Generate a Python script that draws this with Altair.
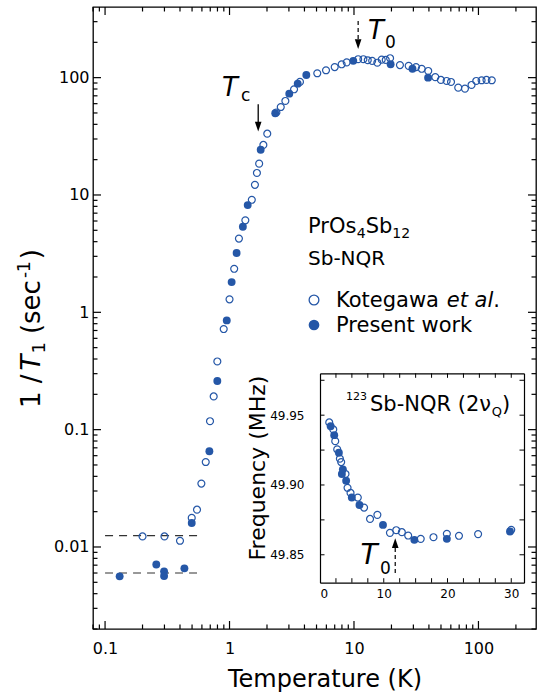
import altair as alt
import pandas as pd

# ---------------- data ----------------
kot_T = [0.20, 0.30, 0.40, 0.497, 0.548, 0.594, 0.644, 0.697, 0.746, 0.798, 0.898, 1.00, 1.09,
         1.19, 1.34, 1.51, 1.60, 1.66, 1.73, 1.87, 2.01, 2.38, 2.58, 2.81, 3.30, 3.68, 5.07, 5.96,
         7.00, 7.96, 8.74, 10.8, 11.9, 12.9, 14.0, 15.4, 16.7, 18.0, 19.5, 23.4, 27.5, 31.5, 35.0,
         39.5, 45.0, 49.9, 55.5, 60.2, 68.8, 77.9, 88.0, 96.0, 106, 116, 128]
kot_R = [0.0123, 0.0123, 0.0113, 0.0177, 0.0208, 0.0347, 0.053, 0.118, 0.192, 0.381, 0.72, 1.29, 2.35,
         4.25, 6.08, 9.1, 12.2, 15.4, 18.5, 26.7, 33.3, 50.5, 56.2, 63.3, 79.6, 92, 109, 115.6,
         123, 130, 135, 143.5, 143.5, 140.7, 139, 134, 142.4, 141.6, 146.4, 128, 126, 123, 119,
         114, 101, 95.6, 93.7, 91.9, 82.2, 80.6, 86.6, 93.7, 95, 95.6, 95]

pw_T = [0.131, 0.258, 0.298, 0.298, 0.434, 0.497, 0.689, 0.798, 0.95, 1.04, 1.14, 1.28, 1.40,
        1.78, 2.33, 3.02, 3.53, 4.14, 9.87, 19.7, 29.5, 39.4]
pw_R = [0.00562, 0.0071, 0.0062, 0.00566, 0.00658, 0.016, 0.0655, 0.26, 0.853, 1.81, 3.2, 5.36, 8.2,
        24.3, 49.7, 73, 88.9, 105.4, 139, 130, 119, 100]

dash_T1 = [0.1, 0.6]
dash_R1 = [0.0125, 0.0125]
dash_T2 = [0.1, 0.58]
dash_R2 = [0.006, 0.006]

ins_kot_T = [1.45, 2.08, 2.39, 2.70, 3.12, 3.32, 4.00, 4.32, 4.79, 5.93, 6.91, 7.85, 9.00, 10.97,
             11.96, 12.84, 13.83, 15.8, 17.8, 19.9, 21.8, 24.8, 30.0]
ins_kot_f = [49.9448, 49.9398, 49.9314, 49.9255, 49.9188, 49.9164, 49.9079, 49.898, 49.8943, 49.891,
             49.8838, 49.8757, 49.8786, 49.8657, 49.8676, 49.8662, 49.8638, 49.8614, 49.8626, 49.865,
             49.8636, 49.8648, 49.8679]
ins_pw_T = [1.67, 2.23, 2.96, 3.43, 3.59, 4.10, 4.99, 6.19, 9.88, 14.8, 19.9, 29.8]
ins_pw_f = [49.9421, 49.9357, 49.9231, 49.9079, 49.9112, 49.9031, 49.891, 49.8857, 49.8714,
            49.8607, 49.8614, 49.8667]

x_major = [0.1, 1, 10, 100]
y_major = [0.01, 0.1, 1, 10, 100]
ins_x_labels = [0, 10, 20, 30]
ins_y_labels = [49.85, 49.90, 49.95]
ins_x_ticks = [i * 2.5 for i in range(1, 13)]
ins_y_ticks = [49.85, 49.875, 49.90, 49.925, 49.95, 49.975]

# ---------------- style ----------------
BLUE = "#2557a7"
FONT = "DejaVu Sans"
W, H = 443, 622

WID = {' ': 318, '(': 390, ')': 390, '-': 361, '.': 318, '/': 337, 'A': 684, 'K': 656, 'M': 863,
       'N': 748, 'O': 787, 'P': 603, 'Q': 787, 'R': 695, 'S': 635, 'T': 611, 'F': 575, 'H': 752,
       'a': 613, 'b': 635, 'c': 550, 'e': 615, 'g': 635, 'k': 579, 'l': 278, 'm': 974, 'n': 634,
       'o': 612, 'p': 635, 'q': 635, 'r': 411, 's': 521, 't': 392, 'u': 634, 'w': 818, 'y': 592,
       'z': 525, 'ν': 592}


def tw(s, size):
    return sum(WID.get(ch, 636) for ch in s) * size / 1000.0


one = pd.DataFrame({"a": [0]})


def txt(s, x, y, size, italic=False, angle=0, align="left"):
    return alt.Chart(one).mark_text(
        text=s, font=FONT, fontSize=size, fontStyle="italic" if italic else "normal",
        align=align, baseline="alphabetic", angle=angle, color="black"
    ).encode(x=alt.value(x), y=alt.value(y))


def xs():
    return alt.Scale(type="log", domain=[0.08, 290], nice=False)


def ys():
    return alt.Scale(type="log", domain=[0.002, 400], nice=False)


def xi():
    return alt.Scale(domain=[0, 32], range=[227, 431], nice=False, zero=False)


def yi():
    return alt.Scale(domain=[49.83, 49.98], range=[575.7, 366.3], nice=False, zero=False)


x_all = sorted({round(m * 10.0 ** k, 6) for k in range(-2, 3) for m in range(1, 10)
                if 0.08 <= m * 10.0 ** k <= 290})
y_all = sorted({round(m * 10.0 ** k, 6) for k in range(-3, 3) for m in range(1, 10)
                if 0.002 <= m * 10.0 ** k <= 390})
x_minor = [v for v in x_all if v not in x_major]
y_minor = [v for v in y_all if v not in y_major]

layers = []

TICK_PATH = {"up": "M 0 0 L 0 -1", "down": "M 0 0 L 0 1", "right": "M 0 0 L 1 0", "left": "M 0 0 L -1 0"}


def xticks(vals, scale_fn, pos, length, direction, width=1.2):
    df = pd.DataFrame({"v": vals})
    return alt.Chart(df).mark_point(shape=TICK_PATH[direction], filled=False, color="black",
                                    strokeWidth=width, size=4 * length * length, opacity=1).encode(
        x=alt.X("v:Q", scale=scale_fn(), axis=None), y=alt.value(pos))


def yticks(vals, scale_fn, pos, length, direction, width=1.2):
    df = pd.DataFrame({"v": vals})
    return alt.Chart(df).mark_point(shape=TICK_PATH[direction], filled=False, color="black",
                                    strokeWidth=width, size=4 * length * length, opacity=1).encode(
        y=alt.Y("v:Q", scale=scale_fn(), axis=None), x=alt.value(pos))


# ---- main axes (labels) ----
dummy = pd.DataFrame({"T": [1.0], "R": [1.0]})
layers.append(alt.Chart(dummy).mark_point(opacity=0).encode(
    x=alt.X("T:Q", scale=xs(), axis=alt.Axis(orient="bottom", values=x_major, format="~g",
                                             ticks=False, tickSize=0, domain=False, grid=False,
                                             labelFontSize=16, labelPadding=11, title=None,
                                             labelFont=FONT, labelColor="black")),
    y=alt.Y("R:Q", scale=ys(), axis=alt.Axis(orient="left", values=y_major, format="~g",
                                             ticks=False, tickSize=0, domain=False, grid=False,
                                             labelFontSize=16, labelPadding=4, title=None,
                                             labelFont=FONT, labelColor="black"))))
# inward ticks on all four sides
MAJ, MIN = 8, 4.5
layers.append(xticks(x_major, xs, H, MAJ, "up"))
layers.append(xticks(x_minor, xs, H, MIN, "up"))
layers.append(xticks(x_major, xs, 0, MAJ, "down"))
layers.append(xticks(x_minor, xs, 0, MIN, "down"))
layers.append(yticks(y_major, ys, 0, MAJ, "right"))
layers.append(yticks(y_minor, ys, 0, MIN, "right"))
layers.append(yticks(y_major, ys, W, MAJ, "left"))
layers.append(yticks(y_minor, ys, W, MIN, "left"))

# ---- main data ----
d1 = pd.DataFrame({"T": dash_T1, "R": dash_R1})
d2 = pd.DataFrame({"T": dash_T2, "R": dash_R2})
for d in (d1, d2):
    layers.append(alt.Chart(d).mark_line(color="#333333", strokeWidth=1.2, strokeDash=[8, 6]).encode(
        x=alt.X("T:Q", scale=xs(), axis=None), y=alt.Y("R:Q", scale=ys(), axis=None)))

kdf = pd.DataFrame({"T": kot_T, "R": kot_R})
pdf = pd.DataFrame({"T": pw_T, "R": pw_R})
layers.append(alt.Chart(kdf).mark_point(shape="circle", filled=False, color=BLUE, strokeWidth=1.2,
                                        size=48, opacity=1).encode(
    x=alt.X("T:Q", scale=xs(), axis=None), y=alt.Y("R:Q", scale=ys(), axis=None)))
layers.append(alt.Chart(pdf).mark_point(shape="circle", filled=True, color=BLUE, size=62,
                                        opacity=1).encode(
    x=alt.X("T:Q", scale=xs(), axis=None), y=alt.Y("R:Q", scale=ys(), axis=None)))

# arrows (Tc solid, T0 dashed)
HEAD_DOWN = "M -0.34 -0.5 L 0.34 -0.5 L 0 0.5 Z"
HEAD_UP = "M -0.34 0.5 L 0.34 0.5 L 0 -0.5 Z"
HEAD_SIZE = 380
tc_arrow = pd.DataFrame({"T": [1.70], "R1": [59.3], "R2": [38.2]})
t0_arrow = pd.DataFrame({"T": [10.8], "R1": [304.0], "R2": [193.0]})
layers.append(alt.Chart(tc_arrow).mark_rule(color="black", strokeWidth=1.3).encode(
    x=alt.X("T:Q", scale=xs(), axis=None), y=alt.Y("R1:Q", scale=ys(), axis=None), y2="R2:Q"))
layers.append(alt.Chart(tc_arrow).mark_point(shape=HEAD_DOWN, filled=True, color="black",
                                             size=HEAD_SIZE, opacity=1).encode(
    x=alt.X("T:Q", scale=xs(), axis=None), y=alt.Y("R2:Q", scale=ys(), axis=None)))
layers.append(alt.Chart(t0_arrow).mark_rule(color="black", strokeWidth=1.2, strokeDash=[4, 3]).encode(
    x=alt.X("T:Q", scale=xs(), axis=None), y=alt.Y("R1:Q", scale=ys(), axis=None), y2="R2:Q"))
layers.append(alt.Chart(t0_arrow).mark_point(shape=HEAD_DOWN, filled=True, color="black",
                                             size=HEAD_SIZE, opacity=1).encode(
    x=alt.X("T:Q", scale=xs(), axis=None), y=alt.Y("R2:Q", scale=ys(), axis=None)))

# ---- inset axes (labels + frame) ----
idum = pd.DataFrame({"t": [10.0], "f": [49.9]})
layers.append(alt.Chart(idum).mark_point(opacity=0).encode(
    x=alt.X("t:Q", scale=xi(), axis=alt.Axis(orient="bottom", offset=-46.3, values=ins_x_labels,
                                             format="d", ticks=False, tickSize=0, domain=True,
                                             domainColor="black", domainWidth=1.2, grid=False,
                                             labelFontSize=12, labelPadding=6, title=None,
                                             labelFont=FONT, labelColor="black")),
    y=alt.Y("f:Q", scale=yi(), axis=alt.Axis(orient="left", offset=-227, values=ins_y_labels,
                                             format=".2f", ticks=False, tickSize=0, domain=True,
                                             domainColor="black", domainWidth=1.2, grid=False,
                                             labelFontSize=12, labelPadding=16, title=None,
                                             labelFont=FONT, labelColor="black"))))
layers.append(alt.Chart(idum).mark_point(opacity=0).encode(
    x=alt.X("t:Q", scale=xi(), axis=alt.Axis(orient="bottom", offset=-255.7, values=[],
                                             labels=False, ticks=False, domain=True,
                                             domainColor="black", domainWidth=1.2, grid=False,
                                             title=None)),
    y=alt.Y("f:Q", scale=yi(), axis=alt.Axis(orient="left", offset=-431, values=[],
                                             labels=False, ticks=False, domain=True,
                                             domainColor="black", domainWidth=1.2, grid=False,
                                             title=None))))
IT = 4.5
layers.append(xticks(ins_x_ticks, xi, 575.7, IT, "up", 1.0))
layers.append(xticks(ins_x_ticks, xi, 366.3, IT, "down", 1.0))
layers.append(yticks(ins_y_ticks, yi, 227, IT, "right", 1.0))
layers.append(yticks(ins_y_ticks, yi, 431, IT, "left", 1.0))

# ---- inset data ----
ikdf = pd.DataFrame({"t": ins_kot_T, "f": ins_kot_f})
ipdf = pd.DataFrame({"t": ins_pw_T, "f": ins_pw_f})
layers.append(alt.Chart(ikdf).mark_point(shape="circle", filled=False, color=BLUE, strokeWidth=1.2,
                                         size=48, opacity=1).encode(
    x=alt.X("t:Q", scale=xi(), axis=None), y=alt.Y("f:Q", scale=yi(), axis=None)))
layers.append(alt.Chart(ipdf).mark_point(shape="circle", filled=True, color=BLUE, size=62,
                                         opacity=1).encode(
    x=alt.X("t:Q", scale=xi(), axis=None), y=alt.Y("f:Q", scale=yi(), axis=None)))
it0 = pd.DataFrame({"t": [11.8], "f1": [49.837], "f2": [49.8584]})
layers.append(alt.Chart(it0).mark_rule(color="black", strokeWidth=1.2, strokeDash=[4, 3]).encode(
    x=alt.X("t:Q", scale=xi(), axis=None), y=alt.Y("f1:Q", scale=yi(), axis=None), y2="f2:Q"))
layers.append(alt.Chart(it0).mark_point(shape=HEAD_UP, filled=True, color="black", size=HEAD_SIZE,
                                        opacity=1).encode(
    x=alt.X("t:Q", scale=xi(), axis=None), y=alt.Y("f2:Q", scale=yi(), axis=None)))

# ---- text annotations (pixel positions inside the plot area) ----
# Tc
layers.append(txt("T", 137, 89, 26, italic=True, align="center"))
layers.append(txt("c", 148, 94, 17))
# T0 (main)
layers.append(txt("T", 283, 32, 26, italic=True, align="center"))
layers.append(txt("0", 292, 41, 17))
# T0 (inset)
layers.append(txt("T", 276, 557, 28, italic=True, align="center"))
layers.append(txt("0", 287, 567, 17))

# compound label
x0 = 215
layers.append(txt("PrOs", x0, 226, 21))
x1 = x0 + tw("PrOs", 21)
layers.append(txt("4", x1, 231, 14))
x2 = x1 + tw("4", 14)
layers.append(txt("Sb", x2, 226, 21))
x3 = x2 + tw("Sb", 21)
layers.append(txt("12", x3, 231, 14))
layers.append(txt("Sb-NQR", x0, 258, 20))

# legend
leg = pd.DataFrame({"a": [0]})
layers.append(alt.Chart(leg).mark_point(shape="circle", filled=False, color=BLUE, strokeWidth=1.3,
                                        size=95, opacity=1).encode(x=alt.value(221), y=alt.value(293)))
layers.append(alt.Chart(leg).mark_point(shape="circle", filled=True, color=BLUE, size=115,
                                        opacity=1).encode(x=alt.value(221), y=alt.value(318)))
lx = 243
layers.append(txt("Kotegawa ", lx, 300, 21))
lx2 = lx + tw("Kotegawa ", 21)
layers.append(txt("et al", lx2, 300, 21, italic=True))
lx3 = lx2 + tw("et al", 21)
layers.append(txt(".", lx3, 300, 21))
layers.append(txt("Present work", lx, 325, 21))

# inset title 123Sb-NQR (2nu_Q)
layers.append(txt("123", 253, 393, 11))
ix1 = 277
layers.append(txt("Sb-NQR (2ν", ix1, 404, 21))
ix2 = ix1 + tw("Sb-NQR (2ν", 21)
layers.append(txt("Q", ix2, 409, 13))
ix3 = ix2 + tw("Q", 13)
layers.append(txt(")", ix3, 404, 21))

# inset y title
layers.append(txt("Frequency (MHz)", 172, 461, 22, angle=270, align="center"))

# main axis titles
layers.append(txt("Temperature (K)", 232, 680, 24, align="center"))
# y title: 1 /T1 (sec-1), rotated, reading upward
FS = 26
bx = -53
yy = 401
layers.append(txt("1 /", bx, yy, FS, angle=270))
yy -= tw("1 /", FS) + 4
layers.append(txt("T", bx, yy, FS, italic=True, angle=270))
yy -= tw("T", FS) + 1
layers.append(txt("1", bx + 5, yy, 18, angle=270))
yy -= tw("1", 18) + 8
layers.append(txt("(sec", bx, yy, FS, angle=270))
yy -= tw("(sec", FS) + 2
layers.append(txt("-1", bx - 10, yy, 17, angle=270))
yy -= tw("-1", 17) + 2
layers.append(txt(")", bx, yy, FS, angle=270))

chart = alt.layer(*layers).resolve_scale(
    x="independent", y="independent"
).resolve_axis(
    x="independent", y="independent"
).properties(
    width=W, height=H,
    autosize=alt.AutoSizeParams(type="none"),
    padding={"left": 93, "top": 7, "right": 1, "bottom": 65},
    background="white",
).configure_view(
    stroke="black", strokeWidth=1.3
)

chart.save("out.html", embed_options={"renderer": "svg", "actions": False})
